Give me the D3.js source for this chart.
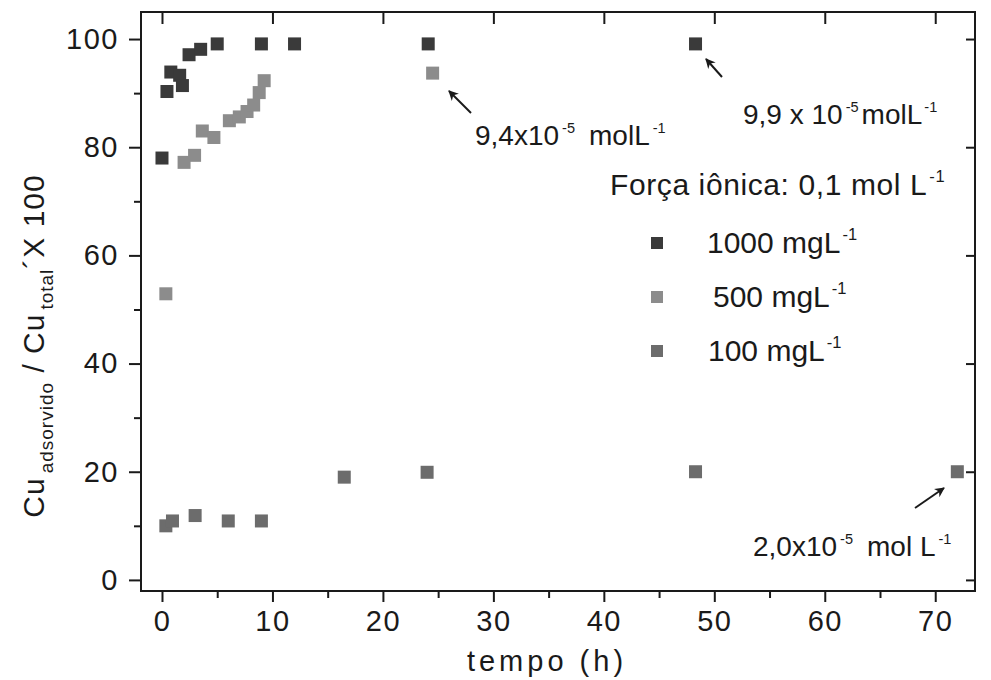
<!DOCTYPE html>
<html>
<head>
<meta charset="utf-8">
<script src="https://cdn.jsdelivr.net/npm/d3@7"></script>
<style>
  html, body { margin: 0; padding: 0; background: #fff; }
  svg { display: block; font-family: "Liberation Sans", Arial, sans-serif; }
</style>
</head>
<body>
<svg id="chart" width="991" height="680"></svg>
<script>
// ---- data ----
const time1000 = [0, 0.45, 0.8, 1.6, 1.85, 2.45, 3.5, 5, 9, 12, 24.1, 48.3];
const cu1000   = [78, 90.3, 93.9, 93.3, 91.4, 97.1, 98.1, 99.1, 99.1, 99.1, 99.1, 99.1];

const time500 = [0.35, 2.0, 2.95, 3.65, 4.7, 6.1, 7.0, 7.7, 8.3, 8.8, 9.25, 24.5];
const cu500   = [52.9, 77.2, 78.5, 83.0, 81.8, 84.9, 85.6, 86.6, 87.8, 90.1, 92.3, 93.7];

const time100 = [0.35, 0.95, 3.0, 6.0, 9.0, 16.5, 24.0, 48.3, 72.0];
const cu100   = [10.0, 10.9, 11.9, 10.9, 10.9, 19.0, 19.9, 20.0, 20.0];

const xTicks = [0, 10, 20, 30, 40, 50, 60, 70];
const xMinor = [5, 15, 25, 35, 45, 55, 65];
const yTicks = [0, 20, 40, 60, 80, 100];
const yMinor = [10, 30, 50, 70, 90];

const seriesLabels = ["1000 mgL", "500 mgL", "100 mgL"];
const seriesColors = ["#3a3a3a", "#8c8c8c", "#6c6c6c"];

const xTitle = "tempo (h)";
const legendTitle = "Força iônica: 0,1 mol L";

// ---- layout ----
const svg = d3.select("#chart");
const L = 141, R = 975, T = 12, B = 591;
const x = d3.scaleLinear().domain([-1.9, 73.6]).range([L, R]);
const y = d3.scaleLinear().domain([-2.05, 105]).range([B, T]);

const ink = "#1a1a1a";

// frame
svg.append("rect").attr("x", L).attr("y", T).attr("width", R - L).attr("height", B - T)
  .attr("fill", "none").attr("stroke", ink).attr("stroke-width", 2);

// bottom axis (outward ticks)
svg.append("g").attr("transform", `translate(0,${B})`)
  .call(d3.axisBottom(x).tickValues(xTicks).tickSize(11).tickPadding(8).tickFormat(d3.format("d")));
svg.append("g").attr("transform", `translate(0,${B})`)
  .call(d3.axisBottom(x).tickValues(xMinor).tickSize(7).tickFormat(""));
// left axis
svg.append("g").attr("transform", `translate(${L},0)`)
  .call(d3.axisLeft(y).tickValues(yTicks).tickSize(12).tickPadding(10).tickFormat(d3.format("d")));
svg.append("g").attr("transform", `translate(${L},0)`)
  .call(d3.axisLeft(y).tickValues(yMinor).tickSize(7).tickFormat(""));
// top axis (inward ticks)
svg.append("g").attr("transform", `translate(0,${T})`)
  .call(d3.axisTop(x).tickValues(xTicks).tickSize(-12).tickFormat(""));
// right axis (inward)
svg.append("g").attr("transform", `translate(${R},0)`)
  .call(d3.axisRight(y).tickValues(yTicks).tickSize(-9).tickFormat(""));

svg.selectAll(".domain").remove();
svg.selectAll(".tick line").attr("stroke", ink).attr("stroke-width", 2);
svg.selectAll(".tick text").attr("fill", ink).style("font-size", "29px")
  .style("font-family", "'Liberation Sans', Arial, sans-serif").style("letter-spacing", "1.5px");

// x title
svg.append("text").attr("x", 547).attr("y", 671).attr("text-anchor", "middle")
  .attr("fill", ink).style("font-size", "29px").style("letter-spacing", "4px").text(xTitle);

// y title (rotated)
const yt = svg.append("text")
  .attr("transform", "translate(44,346) rotate(-90)")
  .attr("text-anchor", "middle").attr("fill", ink)
  .style("font-size", "30px").style("letter-spacing", "1px");
yt.append("tspan").text("Cu");
yt.append("tspan").attr("dy", 9).attr("dx", 4).style("font-size", "19px").text("adsorvido");
yt.append("tspan").attr("dy", -9).text(" / Cu");
yt.append("tspan").attr("dy", 9).attr("dx", 4).style("font-size", "19px").text("total");
yt.append("tspan").attr("dy", -9).text("\u00B4X 100");

// ---- markers ----
const size = 13;
const series = [
  {t: time100, v: cu100, c: seriesColors[2]},
  {t: time500, v: cu500, c: seriesColors[1]},
  {t: time1000, v: cu1000, c: seriesColors[0]}
];
series.forEach(s => {
  svg.append("g").selectAll("rect").data(s.t.map((t, i) => [t, s.v[i]])).join("rect")
    .attr("x", d => x(d[0]) - size / 2).attr("y", d => y(d[1]) - size / 2)
    .attr("width", size).attr("height", size).attr("fill", s.c);
});

// ---- text helper with superscripts ----
// parts: array of [text, isSup, dxBefore]
function richText(xx, yy, parts, fs, supScale) {
  const t = svg.append("text").attr("x", xx).attr("y", yy).attr("fill", ink)
    .style("font-size", fs + "px");
  let up = false;
  const shift = fs * 0.42;
  parts.forEach(p => {
    const sp = t.append("tspan").text(p[0]);
    if (p[1] && !up) { sp.attr("dy", -shift); up = true; }
    else if (!p[1] && up) { sp.attr("dy", shift); up = false; }
    if (p[1]) sp.style("font-size", (fs * supScale) + "px");
    if (p[2]) sp.attr("dx", p[2]);
  });
  return t;
}

// legend
richText(610, 195, [[legendTitle, false], ["-1", true, 2]], 30, 0.55).style("letter-spacing", "0.6px");
const legY = [243, 297, 351];
const legX = [707, 713, 708];
seriesLabels.forEach((n, i) => {
  svg.append("rect").attr("x", 657 - 6).attr("y", legY[i] - 6).attr("width", 12).attr("height", 12)
    .attr("fill", seriesColors[i]);
  richText(legX[i], legY[i] + 10, [[n, false], ["-1", true, 2]], 30, 0.55);
});

// annotations
richText(475, 145, [["9,4x10", false], ["-5", true, 3], ["molL", false, 14], ["-1", true, 3]], 28, 0.52);
richText(743, 124, [["9,9 x 10", false], ["-5", true, 3], ["molL", false, 3], ["-1", true, 2]], 28, 0.52);
richText(753, 556, [["2,0x10", false], ["-5", true, 3], ["mol L", false, 14], ["-1", true, 3]], 28, 0.52);

// arrows
const defs = svg.append("defs");
defs.append("marker").attr("id", "ah").attr("viewBox", "0 0 10 10").attr("refX", 9).attr("refY", 5)
  .attr("markerWidth", 5).attr("markerHeight", 5).attr("orient", "auto")
  .append("path").attr("d", "M0,0 L10,5 L0,10 L3,5 Z").attr("fill", ink);
const arrows = [
  [[471, 113], [449, 91]],
  [[722, 77], [706, 59]],
  [[915, 508], [944, 488]]
];
arrows.forEach(a => {
  svg.append("line").attr("x1", a[0][0]).attr("y1", a[0][1]).attr("x2", a[1][0]).attr("y2", a[1][1])
    .attr("stroke", ink).attr("stroke-width", 2).attr("marker-end", "url(#ah)");
});
</script>
</body>
</html>
